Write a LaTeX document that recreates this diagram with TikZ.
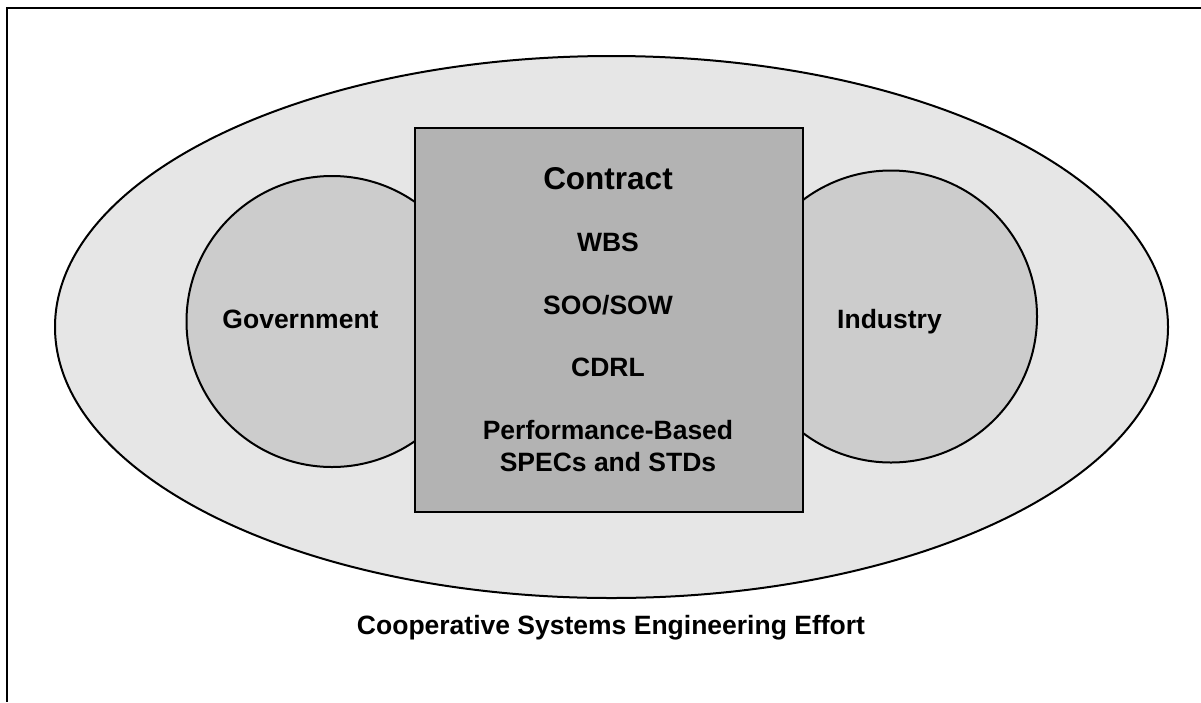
\documentclass[tikz,border=0pt]{standalone}
\usepackage{fontspec}
\setmainfont{Liberation Sans}
\usetikzlibrary{shapes.geometric}
\definecolor{outerfill}{HTML}{E6E6E6}
\definecolor{circfill}{HTML}{CCCCCC}
\definecolor{boxfill}{HTML}{B3B3B3}
\tikzset{
  outerell/.style={ellipse, draw=black, line width=2pt, fill=outerfill, inner sep=0pt, outer sep=0pt},
  party/.style={circle, draw=black, line width=2pt, fill=circfill, inner sep=0pt, outer sep=0pt},
  contractbox/.style={rectangle, draw=black, line width=2.5pt, fill=boxfill, inner sep=0pt, outer sep=0pt},
  lbl/.style={anchor=base, inner sep=0pt, font=\fontsize{26.5}{30}\selectfont\bfseries},
  biglbl/.style={anchor=base, inner sep=0pt, font=\fontsize{31.5}{36}\selectfont\bfseries},
  frameline/.style={line width=2.7pt, black}
}
\begin{document}
\begin{tikzpicture}[x=1pt,y=-1pt]
\useasboundingbox (0,0) rectangle (1201,702);
% frame
\coordinate (ftopright) at (1201,8);
\coordinate (fcorner) at (7,8);
\coordinate (fbottomleft) at (7,702);
\draw[frameline] (ftopright) -- (fcorner) -- (fbottomleft);
% outer ellipse
\node[outerell, minimum width=1113pt, minimum height=542pt] (effort) at (611.5,327) {};
% parties
\node[party, minimum size=291pt] (gov) at (332,321.5) {};
\node[party, minimum size=292pt] (ind) at (891,316.5) {};
% contract box
\node[contractbox, minimum width=388pt, minimum height=384pt] (contract) at (609,320) {};
% texts
\node[biglbl] (tcontract) at (608,189) {Contract};
\node[lbl] (twbs) at (608,251.5) {WBS};
\node[lbl] (tsoo) at (608,314.5) {SOO/SOW};
\node[lbl] (tcdrl) at (608,376.5) {CDRL};
\node[lbl] (tperf) at (608,439.5) {Performance-Based};
\node[lbl] (tspecs) at (608,471.5) {SPECs and STDs};
\node[lbl] (tgov) at (300.5,328.5) {Government};
\node[lbl] (tind) at (889.5,328.5) {Industry};
\node[lbl] (tcap) at (611,634.5) {Cooperative Systems Engineering Effort};
\end{tikzpicture}
\end{document}
